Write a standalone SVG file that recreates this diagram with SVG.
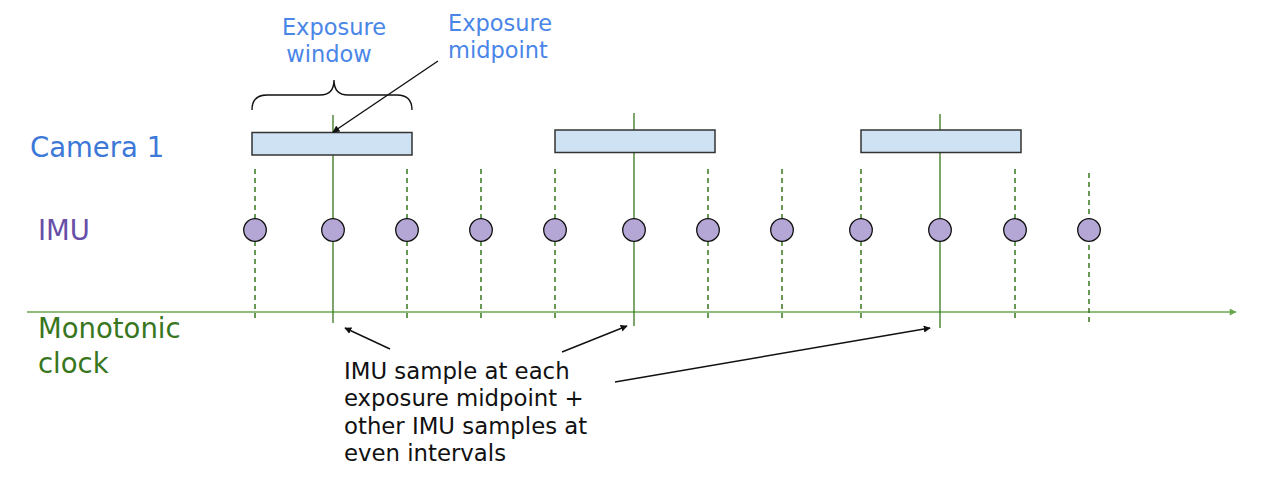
<svg xmlns="http://www.w3.org/2000/svg" width="1287" height="480" viewBox="0 0 1287 480">
<style>
.lbl{font-family:"DejaVu Sans","Noto Sans",sans-serif}
.blue{fill:#4a86e8;font-size:22.5px}
.note{fill:#111;font-size:22.8px}
.big{font-size:27.5px}
.cam{fill:#cfe2f3;stroke:#333;stroke-width:1.5}
.imu{fill:#b4a7d6;stroke:#111;stroke-width:1.3}
.dash{stroke:#38761d;stroke-width:1.5;stroke-dasharray:5 4;fill:none}
.solid{stroke:#38761d;stroke-width:1.3;fill:none}
.arr{stroke:#111;stroke-width:1.4;fill:none;marker-end:url(#ah)}
</style>
<defs>
<marker id="ah" viewBox="0 0 10 10" refX="9" refY="5" markerWidth="7" markerHeight="7" orient="auto" markerUnits="userSpaceOnUse"><path d="M0,0 L10,5 L0,10 z" fill="#111"/></marker>
<marker id="gh" viewBox="0 0 10 10" refX="9" refY="5" markerWidth="9" markerHeight="7" orient="auto" markerUnits="userSpaceOnUse"><path d="M0,0 L10,5 L0,10 z" fill="#6aa84f"/></marker>
</defs>
<g id="axis">
<line x1="27" y1="312" x2="1236" y2="312" stroke="#6aa84f" stroke-width="1.3" marker-end="url(#gh)"/>
</g>
<g id="gridlines">
<line class="dash" x1="255" y1="169" x2="255" y2="322"/>
<line class="dash" x1="407" y1="169" x2="407" y2="322"/>
<line class="dash" x1="481" y1="169" x2="481" y2="322"/>
<line class="dash" x1="555" y1="169" x2="555" y2="322"/>
<line class="dash" x1="708" y1="169" x2="708" y2="322"/>
<line class="dash" x1="782" y1="169" x2="782" y2="322"/>
<line class="dash" x1="861" y1="169" x2="861" y2="322"/>
<line class="dash" x1="1015" y1="169" x2="1015" y2="322"/>
<line class="dash" x1="1089" y1="173" x2="1089" y2="325"/>
<line class="solid" x1="333" y1="115" x2="333" y2="323"/>
<line class="solid" x1="634" y1="113" x2="634" y2="326"/>
<line class="solid" x1="940" y1="114" x2="940" y2="328"/>
</g>
<g id="camera">
<rect class="cam" x="252" y="132.5" width="160" height="22.5"/>
<rect class="cam" x="555" y="130" width="160" height="22.5"/>
<rect class="cam" x="861" y="130" width="160" height="22.5"/>
</g>
<g id="imu-samples">
<circle class="imu" cx="255" cy="230" r="11.3"/>
<circle class="imu" cx="333" cy="230" r="11.3"/>
<circle class="imu" cx="407" cy="230" r="11.3"/>
<circle class="imu" cx="481" cy="230" r="11.3"/>
<circle class="imu" cx="555" cy="230" r="11.3"/>
<circle class="imu" cx="634" cy="230" r="11.3"/>
<circle class="imu" cx="708" cy="230" r="11.3"/>
<circle class="imu" cx="782" cy="230" r="11.3"/>
<circle class="imu" cx="861" cy="230" r="11.3"/>
<circle class="imu" cx="940" cy="230" r="11.3"/>
<circle class="imu" cx="1015" cy="230" r="11.3"/>
<circle class="imu" cx="1089" cy="230" r="11.3"/>
</g>
<g id="brace">
<path d="M252,110 Q252,95 267,95 L320,95 Q334,95 334,80 Q334,95 348,95 L397,95 Q412,95 412,110" fill="none" stroke="#111" stroke-width="1.4"/>
</g>
<g id="connectors">
<line class="arr" x1="438" y1="61" x2="333" y2="132"/>
<line class="arr" x1="390" y1="349" x2="345" y2="328"/>
<line class="arr" x1="562" y1="352" x2="627" y2="326"/>
<line class="arr" x1="615" y1="382" x2="930" y2="328"/>
</g>
<g id="labels">
<text class="lbl blue" x="334" y="35" text-anchor="middle">Exposure</text>
<text class="lbl blue" x="329" y="62" text-anchor="middle">window</text>
<text class="lbl blue" x="448" y="31">Exposure</text>
<text class="lbl blue" x="448" y="58">midpoint</text>
<text class="lbl big" x="30" y="157" fill="#3c78d8">Camera 1</text>
<text class="lbl big" x="38" y="240" fill="#674ea7">IMU</text>
<text class="lbl big" x="38" y="338" fill="#38761d">Monotonic</text>
<text class="lbl big" x="38" y="373" fill="#38761d">clock</text>
<text class="lbl note" x="344" y="379">IMU sample at each</text>
<text class="lbl note" x="344" y="406">exposure midpoint +</text>
<text class="lbl note" x="344" y="434">other IMU samples at</text>
<text class="lbl note" x="344" y="461">even intervals</text>
</g>
</svg>
